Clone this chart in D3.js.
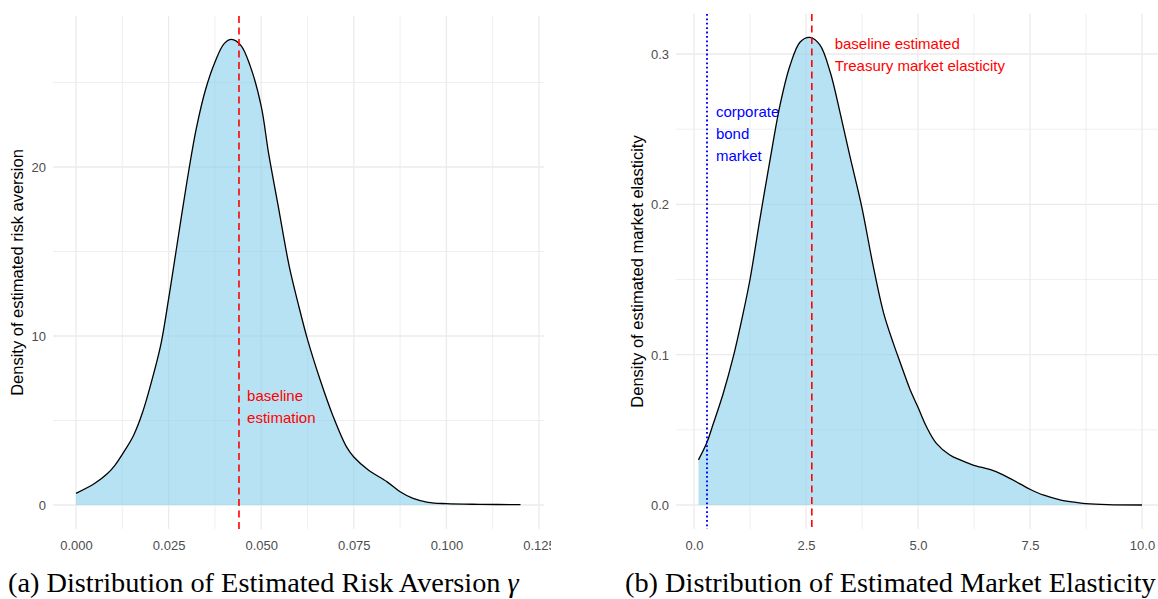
<!DOCTYPE html>
<html>
<head>
<meta charset="utf-8">
<script src="https://cdn.jsdelivr.net/npm/d3@7"></script>
<style>
  html, body { margin: 0; padding: 0; background: #fff; }
  svg { display: block; }
</style>
</head>
<body>
<svg id="chart" width="1158" height="599"></svg>
<script>
// ---------- data ----------
const riskX = [0, 0.005, 0.0085, 0.0105, 0.0125, 0.0155, 0.018, 0.021, 0.023, 0.025, 0.027, 0.030, 0.0325, 0.035, 0.0375, 0.040, 0.042, 0.0445, 0.047, 0.050, 0.052, 0.0545, 0.0575, 0.060, 0.0625, 0.066, 0.0695, 0.073, 0.075, 0.079, 0.084, 0.0875, 0.091, 0.095, 0.100, 0.109, 0.120];
const riskY = [0.69, 1.27, 1.86, 2.35, 3.0, 4.1, 5.5, 7.8, 9.6, 12.2, 15.0, 19.2, 22.3, 24.6, 26.2, 27.3, 27.55, 27.2, 26.0, 23.6, 20.8, 17.8, 14.2, 11.9, 9.8, 7.35, 5.2, 3.45, 2.84, 2.06, 1.37, 0.78, 0.39, 0.16, 0.08, 0.04, 0.02];

const elasX = [0.1, 0.28, 0.43, 0.65, 0.88, 1.1, 1.25, 1.47, 1.7, 1.92, 2.14, 2.37, 2.59, 2.81, 3.04, 3.26, 3.48, 3.74, 4.0, 4.23, 4.45, 4.6, 4.82, 5.0, 5.19, 5.41, 5.71, 5.94, 6.23, 6.68, 7.05, 7.5, 7.81, 8.19, 8.56, 8.75, 9.23, 10];
const elasY = [0.030, 0.041, 0.054, 0.074, 0.099, 0.128, 0.150, 0.190, 0.230, 0.266, 0.292, 0.308, 0.311, 0.306, 0.288, 0.261, 0.232, 0.199, 0.159, 0.128, 0.1075, 0.095, 0.077, 0.065, 0.052, 0.041, 0.0333, 0.030, 0.0266, 0.0228, 0.0177, 0.0105, 0.0065, 0.0033, 0.0016, 0.0009, 0.0002, 0.0];

const riskXTicks = [0, 0.025, 0.05, 0.075, 0.1, 0.125];
const riskXMinor = [0.0125, 0.0375, 0.0625, 0.0875, 0.1125];
const riskYTicks = [0, 10, 20];
const riskYMinor = [5, 15, 25];
const elasXTicks = [0, 2.5, 5, 7.5, 10];
const elasXMinor = [1.25, 3.75, 6.25, 8.75];
const elasYTicks = [0, 0.1, 0.2, 0.3];
const elasYMinor = [0.05, 0.15, 0.25];

const riskBaseline = 0.044;
const elasBaseline = 2.63;
const corpBond = 0.29;

const riskLabel = ["baseline", "estimation"];
const elasLabel = ["baseline estimated", "Treasury market elasticity"];
const corpLabel = ["corporate", "bond", "market"];

const riskTitle = "Density of estimated risk aversion";
const elasTitle = "Density of estimated market elasticity";
const captionA = "(a) Distribution of Estimated Risk Aversion ";
const captionASym = "γ";
const captionB = "(b) Distribution of Estimated Market Elasticity";

// ---------- drawing ----------
const svg = d3.select("#chart");
const SANS = "'Liberation Sans', Arial, Helvetica, sans-serif";
const SERIF = "'Liberation Serif', 'Times New Roman', serif";

function panel(cfg) {
  const g = svg.append("g");
  if (cfg.clipRight) {
    const id = "clip" + cfg.id;
    svg.append("clipPath").attr("id", id).append("rect")
      .attr("x", 0).attr("y", 0).attr("width", cfg.clipRight).attr("height", 599);
    g.attr("clip-path", `url(#${id})`);
  }
  const x = d3.scaleLinear().domain(cfg.xDomain).range(cfg.xRange);
  const y = d3.scaleLinear().domain(cfg.yDomain).range(cfg.yRange);
  const [x0, x1] = cfg.extX; const [y0, y1] = cfg.extY; // y0 top, y1 bottom

  // grid
  const grid = g.append("g");
  grid.selectAll(".vminor").data(cfg.xMinor).join("line")
    .attr("x1", d => x(d)).attr("x2", d => x(d)).attr("y1", y0).attr("y2", y1)
    .attr("stroke", "#ebebeb").attr("stroke-width", 0.8);
  grid.selectAll(".hminor").data(cfg.yMinor).join("line")
    .attr("y1", d => y(d)).attr("y2", d => y(d)).attr("x1", x0).attr("x2", x1)
    .attr("stroke", "#ebebeb").attr("stroke-width", 0.8);
  grid.selectAll(".vmajor").data(cfg.xTicks).join("line")
    .attr("x1", d => x(d)).attr("x2", d => x(d)).attr("y1", y0).attr("y2", y1)
    .attr("stroke", "#ebebeb").attr("stroke-width", 1.3);
  grid.selectAll(".hmajor").data(cfg.yTicks).join("line")
    .attr("y1", d => y(d)).attr("y2", d => y(d)).attr("x1", x0).attr("x2", x1)
    .attr("stroke", "#ebebeb").attr("stroke-width", 1.3);

  const pts = cfg.xs.map((v, i) => [v, cfg.ys[i]]);
  const curve = d3.curveCatmullRom.alpha(0.5);
  const area = d3.area().x(d => x(d[0])).y0(y(0)).y1(d => y(d[1])).curve(curve);
  const line = d3.line().x(d => x(d[0])).y(d => y(d[1])).curve(curve);
  g.append("path").datum(pts).attr("d", area).attr("fill", "#87ceeb").attr("fill-opacity", 0.6);
  g.append("path").datum(pts).attr("d", line).attr("fill", "none").attr("stroke", "#000").attr("stroke-width", 1.3);

  // reference lines
  (cfg.vlines || []).forEach(v => {
    g.append("line").attr("x1", x(v.x)).attr("x2", x(v.x)).attr("y1", y0).attr("y2", y1)
      .attr("stroke", v.color).attr("stroke-width", v.width).attr("stroke-dasharray", v.dash);
  });

  // annotations
  (cfg.notes || []).forEach(n => {
    const t = g.append("text").attr("font-family", SANS).attr("font-size", 15).attr("fill", n.color);
    n.lines.forEach((s, i) => {
      t.append("tspan").attr("x", x(n.x)).attr("y", y(n.y) + i * 22).text(s);
    });
  });

  // axes (text only)
  const xa = d3.axisBottom(x).tickValues(cfg.xTicks).tickFormat(cfg.xFmt).tickSize(0).tickPadding(0);
  const xg = g.append("g").attr("transform", `translate(0,${cfg.xLabelY})`).call(xa);
  xg.select(".domain").remove();
  xg.selectAll("text").attr("font-family", SANS).attr("font-size", 13).attr("fill", "#4d4d4d").attr("dy", 0);

  const ya = d3.axisLeft(y).tickValues(cfg.yTicks).tickFormat(cfg.yFmt).tickSize(0).tickPadding(0);
  const yg = g.append("g").attr("transform", `translate(${cfg.yLabelX},0)`).call(ya);
  yg.select(".domain").remove();
  yg.selectAll("text").attr("font-family", SANS).attr("font-size", 13).attr("fill", "#4d4d4d").attr("dy", "0.35em");

  // y title
  g.append("text")
    .attr("transform", `translate(${cfg.titleX},${(y0 + y1) / 2}) rotate(-90)`)
    .attr("text-anchor", "middle").attr("dy", "0.35em")
    .attr("font-family", SANS).attr("font-size", 16.5).attr("fill", "#000")
    .text(cfg.title);
}

panel({
  id: "a", clipRight: 551,
  xDomain: [0, 0.125], xRange: [76, 539],
  yDomain: [0, 20], yRange: [505, 167],
  extX: [53, 544], extY: [16, 529],
  xs: riskX, ys: riskY,
  xTicks: riskXTicks, xMinor: riskXMinor, yTicks: riskYTicks, yMinor: riskYMinor,
  xFmt: d3.format(".3f"), yFmt: d3.format("d"),
  vlines: [{ x: riskBaseline, color: "#ff0000", width: 1.6, dash: "7,4.5" }],
  notes: [{ x: 0.0462, y: 6.15, lines: riskLabel, color: "#ff0000" }],
  xLabelY: 550, yLabelX: 46, titleX: 17, title: riskTitle
});

panel({
  id: "b",
  xDomain: [0, 10], xRange: [694, 1142],
  yDomain: [0, 0.3], yRange: [505, 54],
  extX: [676, 1165], extY: [14, 529],
  xs: elasX, ys: elasY,
  xTicks: elasXTicks, xMinor: elasXMinor, yTicks: elasYTicks, yMinor: elasYMinor,
  xFmt: d3.format(".1f"), yFmt: d3.format(".1f"),
  vlines: [
    { x: elasBaseline, color: "#ff0000", width: 1.6, dash: "7,4.5" },
    { x: corpBond, color: "#0000ff", width: 1.9, dash: "1.8,2.6" }
  ],
  notes: [
    { x: 3.14, y: (505 - 49) / 1503, lines: elasLabel, color: "#ff0000" },
    { x: 0.49, y: (505 - 117) / 1503, lines: corpLabel, color: "#0000ff" }
  ],
  xLabelY: 550, yLabelX: 669, titleX: 637, title: elasTitle
});

// captions
const capB = svg.append("text").attr("x", 625).attr("y", 592)
  .attr("font-family", SERIF).attr("font-size", 100).attr("fill", "#000")
  .text(captionB);
const wB = capB.node().getComputedTextLength();
const capSize = 100 * 531 / wB;
capB.attr("font-size", capSize);
const capA = svg.append("text").attr("x", 8).attr("y", 592)
  .attr("font-family", SERIF).attr("font-size", capSize).attr("fill", "#000");
capA.append("tspan").text(captionA);
capA.append("tspan").attr("font-style", "italic").text(captionASym);
</script>
</body>
</html>
